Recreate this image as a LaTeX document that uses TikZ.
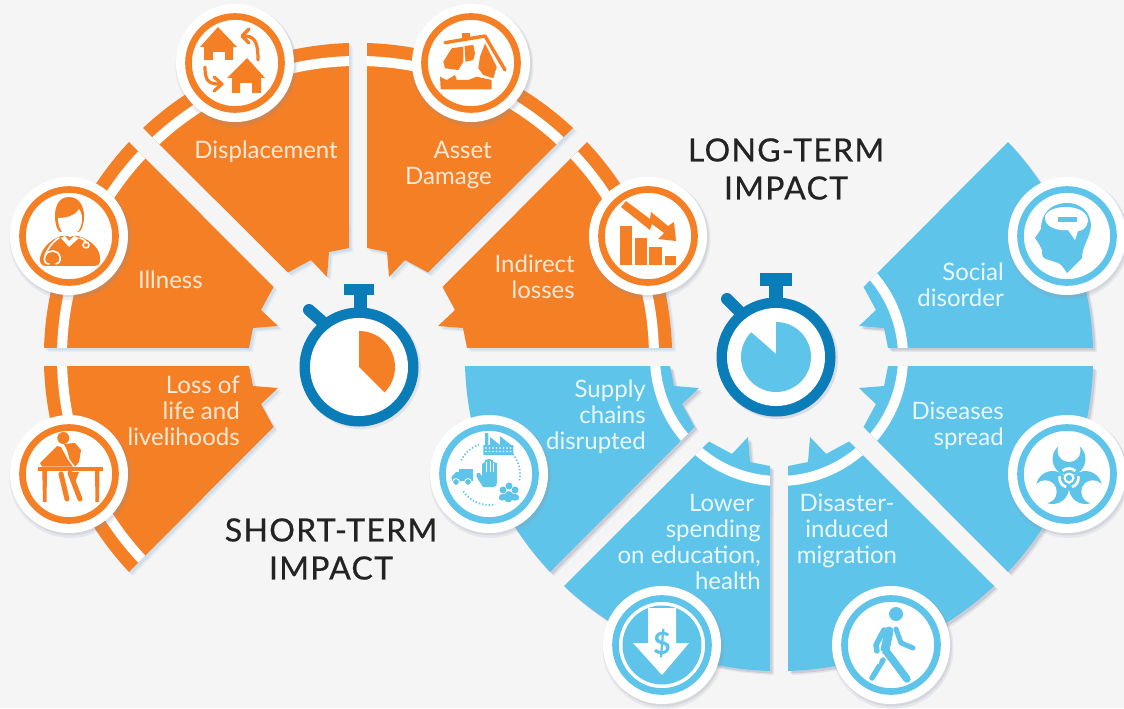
\documentclass[tikz,border=0pt]{standalone}
\usepackage{fontspec}
\setmainfont{Lato}
\definecolor{pagebg}{HTML}{F5F5F5}
\definecolor{org}{HTML}{F47F24}
\definecolor{lb}{HTML}{5FC4EA}
\definecolor{db}{HTML}{0A7DB8}
\definecolor{ink}{HTML}{232323}
\definecolor{orgtext}{HTML}{FCE9D8}
\definecolor{lbtext}{HTML}{EAF8FD}
\definecolor{shorg}{HTML}{9FC3DF}
\definecolor{shlb}{HTML}{8C93A8}
\newcommand\segpath{(109,9) -- (105,29) -- (80,31) -- (97,47) -- (84.5,70) -- (229,215) arc[start angle=43.2,end angle=1.64,radius=314] -- cycle}
% \seg{cx}{cy}{transform}{fill}{shadow}{ring radius}
\newcommand\seg[6]{%
  \begin{scope}[shift={(#1+4,#2-4)},#3]\fill[#5,opacity=.16] \segpath;\end{scope}
  \begin{scope}[shift={(#1+2.5,#2-2.5)},#3]\fill[#5,opacity=.3] \segpath;\end{scope}
  \begin{scope}[shift={(#1,#2)},#3]
    \fill[#4] \segpath;
    \begin{scope}\clip \segpath; \draw[white,line width=7.5pt] (0,0) circle[radius=#6];\end{scope}
  \end{scope}}
% \disc{name}{x}{y}{colour}
\newcommand\disc[4]{%
  \fill[shlb,opacity=.14] (#2+1.5,#3+3) circle[radius=61];
  \fill[shlb,opacity=.18] (#2+1.5,#3+2) circle[radius=59.5];
  \node[circle,fill=white,minimum size=88.5pt,inner sep=0pt] (#1) at (#2,#3) {};
  \draw[#4,line width=5pt] (#2,#3) circle[radius=46.5];}
\tikzset{
  lab/.style={font=\fontsize{18}{19.5}\selectfont,align=right,anchor=east,inner sep=0pt},
  lo/.style={lab,text=orgtext},
  lbl/.style={lab,text=lbtext},
  head/.style={font=\fontsize{24}{28.5}\selectfont\addfontfeatures{LetterSpace=4,FakeBold=.6},text=ink,align=center,inner sep=0pt},
  wl/.style={line width=#1*0.75pt,line cap=round,line join=round},
  dots/.style={lb,line width=1.3pt,dash pattern=on 1pt off 1.5pt},
}
\begin{document}
\begin{tikzpicture}[x=0.75pt,y=0.75pt]
\path[use as bounding box,fill=pagebg] (0,0) rectangle (1124,708);
% orange wheel
\seg{358}{351}{rotate=0}{org}{shorg}{296}
\seg{358}{351}{rotate=90,yscale=-1}{org}{shorg}{296}
\seg{358}{351}{rotate=90}{org}{shorg}{296}
\seg{358}{351}{xscale=-1}{org}{shorg}{296}
\seg{358}{351}{rotate=180}{org}{shorg}{296}
% blue wheel
\seg{779}{351}{rotate=0}{lb}{shlb}{124}
\seg{779}{351}{yscale=-1}{lb}{shlb}{124}
\seg{779}{351}{rotate=270}{lb}{shlb}{124}
\seg{779}{351}{rotate=270,yscale=-1}{lb}{shlb}{124}
\seg{779}{351}{rotate=180}{lb}{shlb}{124}
% watch shadows (y up)
\fill[shlb,opacity=.25] (778,349) circle[radius=60];
\fill[shlb,opacity=.18] (361,339) circle[radius=60];
% everything below in reference pixel coordinates
\begin{scope}[shift={(0,708)},y=-0.75pt]
\disc{dDisp}{235}{63}{org}
\disc{dIll}{69}{236}{org}
\disc{dAsset}{471}{63}{org}
\disc{dIndir}{648}{236}{org}
\disc{dLoss}{69}{474}{org}
\disc{dSupply}{489}{474}{lb}
\disc{dLower}{662}{645}{lb}
\disc{dMigr}{891}{645}{lb}
\disc{dDis}{1067}{474}{lb}
\disc{dSoc}{1067}{236}{lb}
% stopwatch orange
\fill[db] (344,284) rectangle (374,295);
\fill[db] (354,295) rectangle (367,310);
\draw[db,wl=12] (309,310) -- (326,325);
\fill[db] (359,367) circle[radius=59.5];
\fill[white] (359,367) circle[radius=49];
% stopwatch blue
\fill[db] (760,273) rectangle (792,286);
\fill[db] (769,286) rectangle (783,301);
\draw[db,wl=12] (727,299) -- (742,314);
\fill[db] (776,357) circle[radius=59.5];
\fill[white] (776,357) circle[radius=49];
% Displacement icon
\fill[org] (218,27) -- (237,47) -- (233,47) -- (233,60) -- (225,60) -- (225,52) -- (213,52) -- (213,60) -- (204,60) -- (204,47) -- (200,47) -- cycle;
\fill[org] (247,58) -- (265,78) -- (261,78) -- (261,93) -- (252,93) -- (252,83) -- (240,83) -- (240,93) -- (232,93) -- (232,78) -- (227,78) -- cycle;
\draw[org,wl=3.2] (258,60) .. controls (258,45) and (256,37) .. (246,36);
\draw[org,wl=3.2] (249,29) -- (242,36) -- (249,43);
\draw[org,wl=3.2] (205,67) .. controls (205,78) and (207,84) .. (218,84);
\draw[org,wl=3.2] (214,77) -- (222,84) -- (214,91);
% Illness icon
\fill[org] (61,236) -- (78,236) .. controls (92,240) and (101,250) .. (100,260) .. controls (100,264) and (98,266) .. (94,266) -- (46,266) .. controls (42,266) and (39,263) .. (40,258) .. controls (42,248) and (50,240) .. (61,236) -- cycle;
\fill[org] (69,197) .. controls (59,197) and (55,206) .. (55,216) .. controls (55,224) and (57,230) .. (60,232) -- (79,232) .. controls (82,230) and (84,224) .. (84,216) .. controls (84,206) and (79,197) .. (69,197) -- cycle;
\fill[white] (58,218) .. controls (66,218) and (75,216) .. (79,209) .. controls (83,214) and (83,224) .. (79,230) .. controls (76,234) and (72,237) .. (70,237) .. controls (63,236) and (58,228) .. (58,218) -- cycle;
\fill[white] (61,238) -- (69,247) -- (79,238) -- (74,236) -- (69,241) -- (65,236) -- cycle;
\draw[white,wl=1.6] (59,238) .. controls (52,242) and (47,250) .. (45,256) .. controls (43,263) and (47,264) .. (49,264);
\draw[white,wl=1.6] (45,256) .. controls (48,249) and (58,249) .. (60,257) .. controls (61,262) and (58,264) .. (56,264);
\draw[white,wl=1.6] (80,238) .. controls (85,240) and (86,241) .. (86,243);
\draw[white,wl=1.6] (86,245) circle[radius=3];
% Asset icon
\draw[org,wl=3.4] (445,42.7) -- (485,36) -- (505,70);
\fill[org] (462,33) rectangle (470,39);
\fill[org] (443.3,61.7) -- (451.7,48.3) -- (463.3,46.7) -- (463.3,61.7) -- (458.3,70) -- (445,68.3) -- cycle;
\fill[org] (464.5,46) -- (473.3,45) -- (475,53.3) -- (473.3,60) -- (465.5,61.7) -- cycle;
\fill[org] (485,43.3) -- (496.7,66.7) -- (493.3,78.3) -- (483.3,75) -- (478.3,68.3) -- (480,56.7) -- cycle;
\fill[org] (440,76.7) -- (446.7,80) -- (455,75) -- (456.7,80) -- (468.3,80) -- (476.7,76.7) -- (491.7,80) -- (491.7,89.3) -- (440.7,89.3) -- cycle;
% Indirect icon
\fill[org] (620,226) rectangle (632,265);
\fill[org] (635,238) rectangle (647,265);
\fill[org] (649,247) rectangle (662,265);
\fill[org] (665,256) rectangle (676,265);
\fill[org] (626,201) -- (650,219) -- (651,212) -- (668,226) -- (674,222) -- (676,241) -- (658,239) -- (664,233) -- (652,224) -- (650,230) -- (621,207) -- cycle;
% Loss icon
\fill[org] (37.7,467.3) rectangle (103,470.7);
\fill[org] (42.3,471) -- (47,471) -- (46.5,502) -- (43,502) -- cycle;
\fill[org] (95,471) -- (99.5,471) -- (99,502) -- (95.5,502) -- cycle;
\fill[org] (63.3,438) circle[radius=6];
\fill[org] (40,463) -- (57,446) -- (61,447) -- (68,460) -- (73,466.5) -- (42,466.5) -- cycle;
\fill[org] (64,444) -- (75,443) -- (81,450) -- (79,462) -- (75,466.5) -- (69.5,459) -- (67,450) -- cycle;
\draw[org,wl=5] (61,474) -- (67,499);
\draw[org,wl=5] (70,473) -- (80,499);
\fill[org] (72,472) -- (79,472) -- (75.5,481) -- cycle;
% Supply icon
\fill[lb] (483.3,455) -- (483.3,445) -- (485,445) -- (485,433) -- (488.3,433) -- (488.3,445) -- (490,445) -- (490,437) -- (500,445) -- (500,436) -- (511,445) -- (513.3,445) -- (513.3,455) -- cycle;
\foreach \yy in {448,451.5}{\foreach \xx in {486,489.5,...,511}{\fill[white] (\xx,\yy) circle[radius=.8];}}
\fill[lb] (483,487) .. controls (481,483) and (475,477) .. (476.5,473.5) .. controls (478.5,471.5) and (481,474) .. (482,476) -- (482,464) -- (485,462) -- (485,460) -- (489,459) -- (493,460) -- (493,462) -- (497,463) -- (497,482) .. controls (497,485) and (496,487) .. (494,487) -- cycle;
\draw[white,line width=.5pt] (486,462) -- (486,472) (490,460.5) -- (490,472) (493.5,463) -- (493.5,472);
\fill[lb] (451.5,477) -- (456,472) -- (459,472) -- (459,469) -- (473,469) -- (473,481) -- (452,481) -- cycle;
\fill[lb] (456,482) circle[radius=3.2];
\fill[lb] (468,482) circle[radius=3.2];
\draw[white,line width=.6pt] (456,482) circle[radius=3.4] (468,482) circle[radius=3.4];
\fill[lb] (509,486) circle[radius=3.5];
\fill[lb] (503,490) circle[radius=3.5];
\fill[lb] (515,490) circle[radius=3.5];
\fill[lb] (499,499) .. controls (499,494) and (501,494) .. (503,494) .. controls (507,494) and (505,492) .. (509,491) .. controls (513,492) and (511,494) .. (515,494) .. controls (518,494) and (519,495) .. (519,499) .. controls (516,501) and (513,501) .. (512,500) .. controls (511,503) and (506,503) .. (505,500) .. controls (503,501) and (500,501) .. (499,499) -- cycle;
% Lower spending icon
\fill[lb] (662,645) circle[radius=39.5];
\fill[white] (648,608) -- (676,608) -- (676,643) -- (689,643) -- (662,675) -- (633,643) -- (648,643) -- cycle;
\node[inner sep=0pt,text=lb,font=\fontsize{23}{23}\selectfont\bfseries] (dollar) at (662,644) {\$};
% Migration icon
\fill[lb] (896,614) circle[radius=7];
\draw[lb,wl=9] (889,631) -- (885,650);
\draw[lb,wl=5.5] (884,630) -- (876,645) -- (877,651);
\draw[lb,wl=5] (896,629) -- (901,643) -- (913,648);
\draw[lb,wl=7.5] (886,651) -- (907,679);
\draw[lb,wl=5.5] (883,660) -- (872,678);
\draw[white,line width=.8pt] (882,651) -- (878,664);
% Biohazard icon
\foreach \dx/\dy in {0/-1,-.866/.5,.866/.5}{
  \fill[lb] (1069+19*\dx,478+19*\dy) circle[radius=16.5];
}
\foreach \dx/\dy in {0/-1,-.866/.5,.866/.5}{
  \fill[white] (1069+27.5*\dx,478+27.5*\dy) circle[radius=11.5];
}
% Social icon
\fill[lb] (1065,203) .. controls (1080,202) and (1091,212) .. (1091,226) .. controls (1090,238) and (1082,246) .. (1082,258) -- (1067,273) .. controls (1063,267) and (1061,264) .. (1058,263) -- (1046,259) .. controls (1042,258) and (1042,254) .. (1042,250) -- (1039,244) -- (1035,238) -- (1041,229) .. controls (1041,213) and (1051,204) .. (1065,203) -- cycle;
\fill[white] (1066,207) .. controls (1079,207) and (1088,213) .. (1088,221) .. controls (1087,228) and (1082,231) .. (1078,231) -- (1075,240) -- (1068,230) .. controls (1057,231) and (1045,227) .. (1045,218) .. controls (1045,211) and (1055,207) .. (1066,207) -- cycle;
\fill[lb] (1058,217) rectangle (1077,222);
% labels
\node[lo] (tDisp) at (338,152) {Displacement};
\node[lo] (tAsset) at (492,165) {Asset\\Damage};
\node[lo] (tIndir) at (575,277) {Indirect\\losses};
\node[lo] (tIll) at (203,280) {Illness};
\node[lo] (tLoss) at (240,411) {Loss of\\life and\\livelihoods};
\node[lbl] (tSupply) at (646,417) {Supply\\chains\\disrupted};
\node[lbl] (tLower) at (761,542) {Lower\hspace*{5pt}\\spending\\on education,\\health};
\node[lbl,align=center,anchor=center] (tMigr) at (847,531) {Disaster-\\induced\\migration};
\node[lbl] (tDis) at (1004,426) {Diseases\\spread};
\node[lbl] (tSoc) at (1004,285) {Social\\disorder};
\node[head] (hLong) at (786,169) {LONG-TERM\\IMPACT};
\node[head] (hShort) at (331,549) {SHORT-TERM\\IMPACT};
\end{scope}
% y-up details
\draw[dots] (489,234) ++(154:31) arc[start angle=154,end angle=109,radius=31];
\draw[dots] (489,234) ++(40:31) arc[start angle=40,end angle=-12,radius=31];
\draw[dots] (489,234) ++(214:31) arc[start angle=214,end angle=282,radius=31];
\foreach \a in {90,210,330}{
  \draw[white,line width=2pt] (1069,230) ++(\a+42:9.5) arc[start angle=\a+42,end angle=\a-42,radius=9.5];
}
\fill[white] (1069,230) circle[radius=5.5];
\fill[lb] (1069,230) circle[radius=3.2];
\fill[org] (359,341) -- (359,341+36) arc[start angle=90,end angle=-45,radius=36] -- cycle;
\fill[lb] (776,354) -- (776,351+35) arc[start angle=90,end angle=-225,radius=35] -- cycle;
\end{tikzpicture}
\end{document}
